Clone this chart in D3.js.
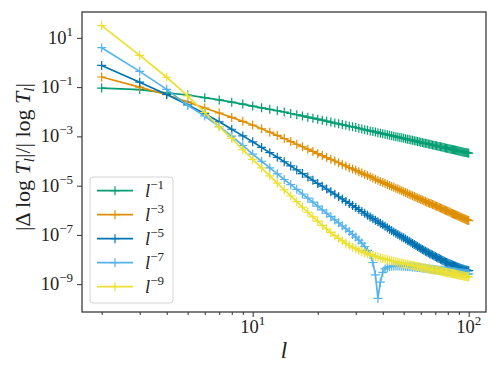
<!DOCTYPE html>
<html>
<head>
<meta charset="utf-8">
<script src="https://cdn.jsdelivr.net/npm/d3@7"></script>
<style>
  html, body { margin: 0; padding: 0; background: #fff; }
  svg { display: block; }
  text { font-family: "Liberation Serif", "DejaVu Serif", serif; fill: #222; }
</style>
</head>
<body>
<svg id="chart" width="498" height="374"></svg>
<script>
// l = 2 .. 100, one marker per integer
var ells = d3.range(2, 101);

// log10 of |Δ log T_l| / |log T_l|, l = 2..100 (10 per row)
var errL1 = [
  -1.04,-1.10,-1.23,-1.32,-1.43,-1.52,-1.61,-1.69,-1.77,-1.84,
  -1.90,-1.96,-2.01,-2.07,-2.12,-2.17,-2.22,-2.26,-2.30,-2.34,
  -2.38,-2.42,-2.46,-2.49,-2.52,-2.55,-2.59,-2.61,-2.64,-2.67,
  -2.70,-2.73,-2.75,-2.78,-2.80,-2.82,-2.85,-2.87,-2.89,-2.91,
  -2.93,-2.95,-2.97,-2.99,-3.01,-3.03,-3.05,-3.06,-3.08,-3.10,
  -3.12,-3.13,-3.15,-3.16,-3.18,-3.19,-3.21,-3.22,-3.24,-3.25,
  -3.27,-3.28,-3.29,-3.31,-3.32,-3.33,-3.35,-3.36,-3.37,-3.38,
  -3.40,-3.41,-3.42,-3.43,-3.44,-3.45,-3.47,-3.48,-3.49,-3.50,
  -3.51,-3.52,-3.53,-3.54,-3.55,-3.56,-3.57,-3.58,-3.59,-3.60,
  -3.61,-3.62,-3.63,-3.64,-3.65,-3.65,-3.66,-3.67,-3.68];
var errL3 = [
  -0.59,-1.00,-1.31,-1.60,-1.85,-2.05,-2.23,-2.39,-2.54,-2.69,
  -2.83,-2.96,-3.09,-3.21,-3.32,-3.42,-3.52,-3.61,-3.70,-3.78,
  -3.86,-3.93,-4.00,-4.07,-4.14,-4.20,-4.27,-4.32,-4.38,-4.44,
  -4.49,-4.54,-4.59,-4.64,-4.69,-4.74,-4.78,-4.83,-4.87,-4.91,
  -4.95,-4.99,-5.03,-5.07,-5.11,-5.14,-5.18,-5.21,-5.25,-5.28,
  -5.31,-5.35,-5.38,-5.41,-5.44,-5.47,-5.50,-5.53,-5.56,-5.58,
  -5.61,-5.64,-5.67,-5.69,-5.72,-5.74,-5.77,-5.79,-5.82,-5.84,
  -5.86,-5.89,-5.91,-5.93,-5.96,-5.98,-6.00,-6.02,-6.04,-6.06,
  -6.08,-6.11,-6.13,-6.15,-6.17,-6.19,-6.20,-6.22,-6.24,-6.26,
  -6.28,-6.30,-6.32,-6.33,-6.35,-6.37,-6.39,-6.40,-6.42];
var errL5 = [
  -0.12,-0.80,-1.30,-1.72,-2.08,-2.41,-2.71,-2.98,-3.22,-3.45,
  -3.66,-3.85,-4.03,-4.20,-4.36,-4.51,-4.65,-4.78,-4.91,-5.02,
  -5.14,-5.25,-5.35,-5.45,-5.54,-5.64,-5.72,-5.81,-5.89,-5.97,
  -6.05,-6.12,-6.20,-6.27,-6.34,-6.40,-6.47,-6.53,-6.59,-6.65,
  -6.71,-6.77,-6.82,-6.88,-6.93,-6.98,-7.03,-7.08,-7.12,-7.17,
  -7.22,-7.26,-7.30,-7.35,-7.39,-7.43,-7.47,-7.51,-7.55,-7.59,
  -7.62,-7.66,-7.69,-7.72,-7.76,-7.79,-7.82,-7.85,-7.88,-7.91,
  -7.94,-7.96,-7.99,-8.02,-8.04,-8.07,-8.10,-8.12,-8.14,-8.16,
  -8.18,-8.20,-8.22,-8.24,-8.26,-8.27,-8.29,-8.31,-8.32,-8.34,
  -8.36,-8.37,-8.38,-8.40,-8.41,-8.42,-8.43,-8.45,-8.45];
var errL7 = [
   0.60,-0.36,-1.09,-1.74,-2.17,-2.60,-2.99,-3.37,-3.72,-4.01,
  -4.28,-4.52,-4.75,-4.96,-5.15,-5.34,-5.51,-5.67,-5.83,-5.98,
  -6.12,-6.26,-6.39,-6.51,-6.63,-6.75,-6.86,-6.98,-7.09,-7.21,
  -7.33,-7.47,-7.63,-7.80,-8.12,-8.62,-9.58,-8.92,-8.52,-8.38,
  -8.32,-8.29,-8.27,-8.26,-8.26,-8.26,-8.26,-8.26,-8.27,-8.27,
  -8.28,-8.28,-8.29,-8.30,-8.30,-8.31,-8.32,-8.32,-8.33,-8.34,
  -8.35,-8.35,-8.36,-8.37,-8.38,-8.39,-8.39,-8.40,-8.41,-8.42,
  -8.42,-8.43,-8.44,-8.44,-8.45,-8.46,-8.46,-8.47,-8.48,-8.48,
  -8.49,-8.49,-8.50,-8.50,-8.51,-8.52,-8.52,-8.53,-8.54,-8.54,
  -8.55,-8.55,-8.56,-8.56,-8.57,-8.57,-8.58,-8.58,-8.59];
var errL9 = [
   1.50, 0.29,-0.60,-1.36,-2.03,-2.61,-3.08,-3.54,-3.93,-4.28,
  -4.60,-4.90,-5.17,-5.42,-5.65,-5.87,-6.08,-6.27,-6.44,-6.61,
  -6.76,-6.90,-7.03,-7.14,-7.24,-7.34,-7.42,-7.50,-7.56,-7.62,
  -7.67,-7.72,-7.77,-7.80,-7.84,-7.87,-7.90,-7.93,-7.96,-7.98,
  -8.01,-8.03,-8.05,-8.07,-8.09,-8.11,-8.13,-8.14,-8.16,-8.18,
  -8.19,-8.21,-8.22,-8.24,-8.25,-8.27,-8.28,-8.29,-8.31,-8.32,
  -8.34,-8.35,-8.36,-8.37,-8.38,-8.40,-8.41,-8.42,-8.43,-8.44,
  -8.45,-8.46,-8.47,-8.49,-8.50,-8.51,-8.52,-8.53,-8.54,-8.55,
  -8.55,-8.56,-8.57,-8.58,-8.59,-8.60,-8.61,-8.62,-8.63,-8.64,
  -8.65,-8.65,-8.66,-8.67,-8.68,-8.69,-8.69,-8.70,-8.71];

var seriesExps = ["-1", "-3", "-5", "-7", "-9"];
var seriesColors = ["#029E73", "#DE8F05", "#0173B2", "#56B4E9", "#ECE133"];
var seriesData = [errL1, errL3, errL5, errL7, errL9];

var xMajor = [10, 100], xMajorExp = ["1", "2"];
var xMinor = [2, 3, 4, 5, 6, 7, 8, 9, 20, 30, 40, 50, 60, 70, 80, 90];
var yMajor = [1e1, 1e-1, 1e-3, 1e-5, 1e-7, 1e-9];
var yMajorExp = ["1", "\u22121", "\u22123", "\u22125", "\u22127", "\u22129"];

var m = {left: 82, right: 486, top: 12, bottom: 312};

var svg = d3.select("#chart");

var x = d3.scaleLog().domain([Math.pow(10, 0.21), Math.pow(10, 2.08)]).range([m.left, m.right]);
var y = d3.scaleLog().domain([Math.pow(10, -10.13), Math.pow(10, 2.05)]).range([m.bottom, m.top]);

var axisColor = "#333";

// ticks
var gx = svg.append("g").attr("transform", "translate(0," + m.bottom + ")");
gx.call(d3.axisBottom(x).tickValues(xMajor).tickSize(5).tickFormat(""));
var gxm = svg.append("g").attr("transform", "translate(0," + m.bottom + ")");
gxm.call(d3.axisBottom(x).tickValues(xMinor).tickSize(3).tickFormat(""));
var gy = svg.append("g").attr("transform", "translate(" + m.left + ",0)");
gy.call(d3.axisLeft(y).tickValues(yMajor).tickSize(5).tickFormat(""));
[gx, gxm, gy].forEach(function(g) {
  g.select(".domain").remove();
  g.selectAll("line").attr("stroke", axisColor).attr("stroke-width", 1);
});

// tick labels, 10^n
xMajor.forEach(function(v, i) {
  var t = svg.append("text")
    .attr("x", x(v)).attr("y", 333)
    .attr("text-anchor", "middle")
    .style("font-size", "18.5px");
  t.append("tspan").text("10");
  t.append("tspan").attr("dy", -8).style("font-size", "13px").text(xMajorExp[i]);
});
yMajor.forEach(function(v, i) {
  var t = svg.append("text")
    .attr("x", 73).attr("y", y(v) + 6)
    .attr("text-anchor", "end")
    .style("font-size", "18.5px");
  t.append("tspan").text("10");
  t.append("tspan").attr("dy", -8).style("font-size", "13px").text(yMajorExp[i]);
});

// series
var line = d3.line()
  .x(function(d) { return x(d.l); })
  .y(function(d) { return y(d.v); });

var plus = "M-4.5,0H4.5M0,-4.5V4.5";

seriesData.forEach(function(arr, k) {
  var pts = ells.map(function(l, i) { return {l: l, v: Math.pow(10, arr[i])}; });
  svg.append("path")
    .datum(pts)
    .attr("d", line)
    .attr("fill", "none")
    .attr("stroke", seriesColors[k])
    .attr("stroke-width", 1.7);
  svg.append("g").selectAll("path")
    .data(pts)
    .enter().append("path")
    .attr("transform", function(d) { return "translate(" + x(d.l) + "," + y(d.v) + ")"; })
    .attr("d", plus)
    .attr("stroke", seriesColors[k])
    .attr("stroke-width", 1.2);
});

// frame
svg.append("rect")
  .attr("x", m.left).attr("y", m.top)
  .attr("width", m.right - m.left).attr("height", m.bottom - m.top)
  .attr("fill", "none").attr("stroke", axisColor).attr("stroke-width", 1.25);

// legend
var lg = svg.append("g");
lg.append("rect")
  .attr("x", 90).attr("y", 177).attr("width", 83).attr("height", 126)
  .attr("rx", 3).attr("fill", "#fff").attr("fill-opacity", 0.8)
  .attr("stroke", "#d4d4d4").attr("stroke-width", 1);
seriesExps.forEach(function(e, k) {
  var yy = 190.7 + k * 24;
  lg.append("line")
    .attr("x1", 97).attr("x2", 133).attr("y1", yy).attr("y2", yy)
    .attr("stroke", seriesColors[k]).attr("stroke-width", 1.7);
  lg.append("path")
    .attr("transform", "translate(115," + yy + ")")
    .attr("d", plus).attr("stroke", seriesColors[k]).attr("stroke-width", 1.2);
  var t = lg.append("text")
    .attr("x", 145).attr("y", yy + 6)
    .style("font-size", "18.5px");
  t.append("tspan").style("font-style", "italic").text("l");
  t.append("tspan").attr("dy", -8).style("font-size", "13px").text(e.replace("-", "\u2212"));
});

// axis labels
svg.append("text")
  .attr("x", 284).attr("y", 358)
  .attr("text-anchor", "middle")
  .style("font-size", "23px").style("font-style", "italic")
  .text("l");

var yl = svg.append("text")
  .attr("transform", "translate(30,157) rotate(-90)")
  .attr("text-anchor", "middle")
  .style("font-size", "22px");
yl.append("tspan").text("|\u0394 log ");
yl.append("tspan").style("font-style", "italic").text("T");
yl.append("tspan").attr("dy", 4).style("font-size", "15px").style("font-style", "italic").text("l");
yl.append("tspan").attr("dy", -4).text("|/| log ");
yl.append("tspan").style("font-style", "italic").text("T");
yl.append("tspan").attr("dy", 4).style("font-size", "15px").style("font-style", "italic").text("l");
yl.append("tspan").attr("dy", -4).text("|");
</script>
</body>
</html>
